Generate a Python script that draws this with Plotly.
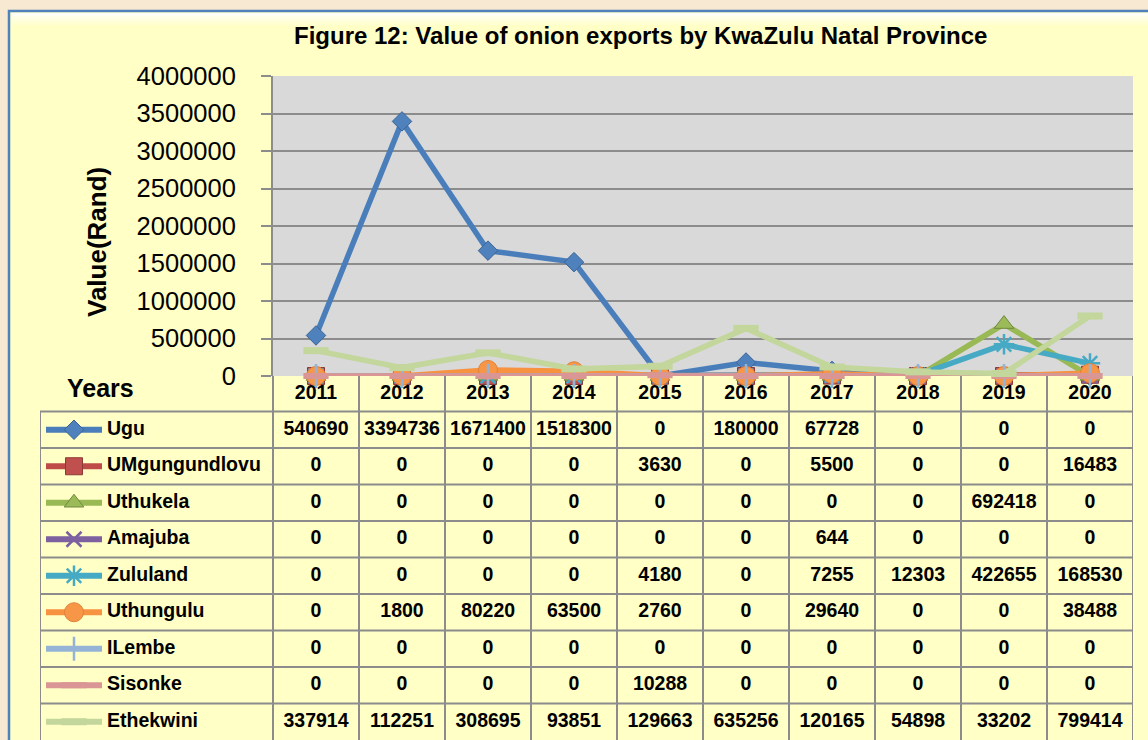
import plotly.graph_objects as go

# ---------------- data ----------------
years = ["2011", "2012", "2013", "2014", "2015", "2016", "2017", "2018", "2019", "2020"]
series_names = ["Ugu", "UMgungundlovu", "Uthukela", "Amajuba", "Zululand",
                "Uthungulu", "ILembe", "Sisonke", "Ethekwini"]
ugu = [540690, 3394736, 1671400, 1518300, 0, 180000, 67728, 0, 0, 0]
umgungundlovu = [0, 0, 0, 0, 3630, 0, 5500, 0, 0, 16483]
uthukela = [0, 0, 0, 0, 0, 0, 0, 0, 692418, 0]
amajuba = [0, 0, 0, 0, 0, 0, 644, 0, 0, 0]
zululand = [0, 0, 0, 0, 4180, 0, 7255, 12303, 422655, 168530]
uthungulu = [0, 1800, 80220, 63500, 2760, 0, 29640, 0, 0, 38488]
ilembe = [0, 0, 0, 0, 0, 0, 0, 0, 0, 0]
sisonke = [0, 0, 0, 0, 10288, 0, 0, 0, 0, 0]
ethekwini = [337914, 112251, 308695, 93851, 129663, 635256, 120165, 54898, 33202, 799414]
series_values = [ugu, umgungundlovu, uthukela, amajuba, zululand,
                 uthungulu, ilembe, sisonke, ethekwini]
title_text = "Figure 12: Value of onion exports by KwaZulu Natal Province"
y_title = "Value(Rand)"
table_corner = "Years"

# ---------------- styles ----------------
styles = [
    dict(color="#4A7EBB", symbol="diamond", size=15, fill="#4F81BD", border="#3A6496", bw=1),
    dict(color="#BE4B48", symbol="square", size=17, fill="#C0504D", border="#8C3836", bw=1),
    dict(color="#98B954", symbol="triangle-up", size=17, fill="#9BBB59", border="#71893F", bw=1),
    dict(color="#7D60A0", symbol="x-thin-open", size=15, fill="#7D60A0", border="#7D60A0", bw=2.5),
    dict(color="#46AAC5", symbol="asterisk-open", size=17, fill="#46AAC5", border="#46AAC5", bw=2.5),
    dict(color="#F69240", symbol="circle", size=19, fill="#F79646", border="#E0823A", bw=1),
    dict(color="#95B3D7", symbol="cross-thin-open", size=17, fill="#95B3D7", border="#95B3D7", bw=2.5),
    dict(color="#D99694", symbol="line-ew-open", size=18, fill="#D99694", border="#D99694", bw=6),
    dict(color="#C3D69B", symbol="line-ew-open", size=18, fill="#C3D69B", border="#C3D69B", bw=7),
]
FONT = "Liberation Sans, Arial, sans-serif"
GRID = "#8C8C8C"
CHART_FILL = "#FFFFC6"
OUTER = "#F7E9D2"

W, H = 1148, 740
PLOT_L, PLOT_R, PLOT_T, PLOT_B = 273, 1133, 76, 376
TABLE_L = 40
HEADER_B = 411.5
ROW_H = 36.5
ncat = len(years)
cat_w = (PLOT_R - PLOT_L) / ncat
x2_left = -0.5 - (PLOT_L - TABLE_L) / cat_w
y2_bottom = (H - HEADER_B) / ROW_H - 0.5
y2_top = -0.5 - (HEADER_B - PLOT_B) / ROW_H
header_y = (y2_top - 0.5) / 2


def ux(px):
    return x2_left + (px - TABLE_L) / cat_w


fig = go.Figure()

# main lines
for name, vals, st in zip(series_names, series_values, styles):
    fig.add_trace(go.Scatter(
        x=years, y=vals, mode="lines+markers", name=name,
        line=dict(color=st["color"], width=5.5),
        marker=dict(symbol=st["symbol"], size=st["size"], color=st["fill"],
                    line=dict(color=st["border"], width=st["bw"])),
        cliponaxis=False, showlegend=False, hoverinfo="skip"))

# table: legend keys, names, values
rows = list(range(len(series_names)))
for i, (name, vals, st) in enumerate(zip(series_names, series_values, styles)):
    fig.add_trace(go.Scatter(
        x=[ux(46), ux(102)], y=[i, i], xaxis="x2", yaxis="y2", mode="lines",
        line=dict(color=st["color"], width=6), showlegend=False, hoverinfo="skip"))
    fig.add_trace(go.Scatter(
        x=[ux(74)], y=[i], xaxis="x2", yaxis="y2", mode="markers",
        marker=dict(symbol=st["symbol"], size=st["size"], color=st["fill"],
                    line=dict(color=st["border"], width=st["bw"])),
        showlegend=False, hoverinfo="skip", cliponaxis=False))
    fig.add_trace(go.Scatter(
        x=list(range(ncat)), y=[i] * ncat, xaxis="x2", yaxis="y2", mode="text",
        text=[str(v) for v in vals],
        textfont=dict(family=FONT, size=19.5, color="black", weight="bold"),
        showlegend=False, hoverinfo="skip", cliponaxis=False))

fig.add_trace(go.Scatter(
    x=[ux(107)] * len(series_names), y=rows, xaxis="x2", yaxis="y2", mode="text",
    text=series_names, textposition="middle right",
    textfont=dict(family=FONT, size=19.5, color="black", weight="bold"),
    showlegend=False, hoverinfo="skip", cliponaxis=False))

fig.add_trace(go.Scatter(
    x=list(range(ncat)), y=[header_y] * ncat, xaxis="x2", yaxis="y2", mode="text",
    text=years, textfont=dict(family=FONT, size=19.5, color="black", weight="bold"),
    showlegend=False, hoverinfo="skip", cliponaxis=False))

# ---------------- shapes ----------------
shapes = []
# chart area
shapes.append(dict(type="rect", xref="paper", yref="paper", layer="below",
                   x0=9 / W, x1=1.05, y0=-0.05, y1=1 - 11 / H,
                   fillcolor=CHART_FILL, line=dict(color="#4F81BD", width=2.5)))
for k, op in enumerate([0.85, 0.6, 0.4, 0.2]):
    shapes.append(dict(type="rect", xref="paper", yref="paper", layer="below",
                       x0=12 / W, x1=1.05, y0=1 - (16 + 3 * k) / H, y1=1 - (13 + 3 * k) / H,
                       fillcolor="white", opacity=op, line=dict(width=0)))
# plot area
shapes.append(dict(type="rect", xref="x domain", yref="y domain", layer="below",
                   x0=0, x1=1, y0=0, y1=1, fillcolor="#D9D9D9", line=dict(width=0)))
# table borders
for k in range(len(series_names)):
    yb = k - 0.5
    shapes.append(dict(type="line", xref="x2", yref="y2", x0=x2_left, x1=ncat - 0.5,
                       y0=yb, y1=yb, line=dict(color=GRID, width=2)))
for j in range(ncat + 1):
    xb = j - 0.5
    shapes.append(dict(type="line", xref="x2", yref="y2", x0=xb, x1=xb,
                       y0=y2_top, y1=y2_bottom, line=dict(color=GRID, width=2)))
shapes.append(dict(type="line", xref="x2", yref="y2", x0=x2_left, x1=x2_left,
                   y0=-0.5, y1=y2_bottom, line=dict(color=GRID, width=2)))

annotations = [
    dict(text=title_text, xref="paper", yref="paper", x=640.5 / W, y=1 - 36 / H,
         xanchor="center", yanchor="middle", showarrow=False,
         font=dict(family=FONT, size=24, color="black", weight="bold")),
    dict(text=y_title, xref="paper", yref="paper", x=97 / W, y=1 - 242 / H,
         xanchor="center", yanchor="middle", showarrow=False, textangle=-90,
         font=dict(family=FONT, size=26, color="black", weight="bold")),
    dict(text=table_corner, xref="paper", yref="paper", x=100 / W, y=1 - 388 / H,
         xanchor="center", yanchor="middle", showarrow=False,
         font=dict(family=FONT, size=25, color="black", weight="bold")),
]

fig.update_layout(
    width=W, height=H, margin=dict(l=0, r=0, t=0, b=0, pad=0, autoexpand=False),
    paper_bgcolor=OUTER, plot_bgcolor="rgba(0,0,0,0)",
    showlegend=False, shapes=shapes, annotations=annotations,
    xaxis=dict(domain=[PLOT_L / W, PLOT_R / W], type="category", categoryorder="array",
               categoryarray=years, range=[-0.5, ncat - 0.5], showticklabels=False,
               showgrid=False, zeroline=False, showline=False, ticks="", anchor="y",
               fixedrange=True, automargin=False),
    yaxis=dict(domain=[1 - PLOT_B / H, 1 - PLOT_T / H], range=[0, 4000000], dtick=500000,
               tickformat="d", gridcolor=GRID, gridwidth=2, showline=True, linecolor=GRID,
               linewidth=2, ticks="outside", ticklen=10, tickwidth=2, tickcolor=GRID,
               tickfont=dict(family=FONT, size=25.5, color="black"), ticklabelstandoff=20,
               zeroline=False, anchor="x", fixedrange=True, automargin=False),
    xaxis2=dict(domain=[TABLE_L / W, PLOT_R / W], range=[x2_left, ncat - 0.5],
                visible=False, anchor="y2", fixedrange=True, automargin=False),
    yaxis2=dict(domain=[0, 1 - PLOT_B / H], range=[y2_bottom, y2_top],
                visible=False, anchor="x2", fixedrange=True, automargin=False),
)

fig.write_html("out.html", config={"displayModeBar": False},
               post_script="document.body.style.margin='0';")
